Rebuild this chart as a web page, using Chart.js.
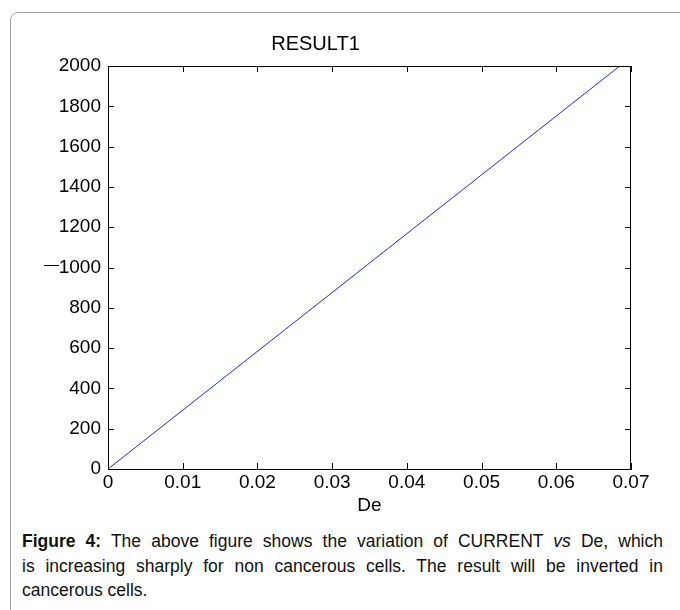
<!DOCTYPE html>
<html>
<head>
<meta charset="utf-8">
<script src="https://cdn.jsdelivr.net/npm/chart.js@4/dist/chart.umd.min.js"></script>
<style>
  html, body { margin: 0; padding: 0; background: #fff; width: 680px; height: 610px; overflow: hidden; }
  #card { position: absolute; left: 10px; top: 12px; width: 720px; height: 700px; border: 1px solid #a0a0a0; border-radius: 8px; box-sizing: border-box; }
  #wrap { position: absolute; left: 0; top: 0; width: 680px; height: 520px; }
  #caption { position: absolute; left: 22px; top: 529px; width: 641px; font-family: "Liberation Sans", Arial, sans-serif; font-size: 17.5px; line-height: 24.5px; color: #111; }
  #caption .j { text-align: justify; text-align-last: justify; white-space: nowrap; }
</style>
</head>
<body>
<div id="card"></div>
<div id="wrap"><canvas id="c" width="680" height="520"></canvas></div>
<div id="caption">
  <div class="j"><b>Figure 4:</b> The above figure shows the variation of CURRENT <i>vs</i> De, which</div>
  <div class="j">is increasing sharply for non cancerous cells. The result will be inverted in</div>
  <div>cancerous cells.</div>
</div>
<script>
// Data
const deValues = [0, 0.0685];
const resultValues = [0, 2000];
const xTickLabels = ["0", "0.01", "0.02", "0.03", "0.04", "0.05", "0.06", "0.07"];
const yTickLabels = ["0", "200", "400", "600", "800", "1000", "1200", "1400", "1600", "1800", "2000"];
const chartTitle = "RESULT1";
const xAxisTitle = "De";
const yAxisMark = "\u2014";

const FONT = "'Liberation Sans', Arial, sans-serif";

const frameTicks = {
  id: 'frameTicks',
  afterDraw(chart) {
    const {ctx, chartArea: a, scales: {x, y}} = chart;
    ctx.save();
    ctx.strokeStyle = '#000';
    ctx.lineWidth = 1;
    ctx.beginPath();
    ctx.moveTo(a.left, a.top + 0.5); ctx.lineTo(a.right, a.top + 0.5);
    ctx.moveTo(a.right - 0.5, a.top); ctx.lineTo(a.right - 0.5, a.bottom);
    const L = 6;
    x.ticks.forEach(t => {
      const px = Math.round(x.getPixelForValue(t.value)) + 0.5;
      ctx.moveTo(px, a.bottom); ctx.lineTo(px, a.bottom - L);
      ctx.moveTo(px, a.top); ctx.lineTo(px, a.top + L);
    });
    y.ticks.forEach(t => {
      const py = Math.round(y.getPixelForValue(t.value)) + 0.5;
      ctx.moveTo(a.left, py); ctx.lineTo(a.left + L, py);
      ctx.moveTo(a.right, py); ctx.lineTo(a.right - L, py);
    });
    ctx.stroke();
    // y-axis label (rendered as a short dash beside the middle tick)
    ctx.fillStyle = '#000';
    ctx.font = '15px ' + FONT;
    ctx.textAlign = 'right';
    ctx.textBaseline = 'middle';
    ctx.fillText(yAxisMark, 59, y.getPixelForValue(1000) - 3);
    ctx.restore();
  }
};

new Chart(document.getElementById('c'), {
  type: 'line',
  data: {
    datasets: [{
      data: deValues.map((v, i) => ({x: v, y: resultValues[i]})),
      borderColor: 'rgb(40,40,220)',
      borderWidth: 1,
      pointRadius: 0,
      fill: false,
      tension: 0
    }]
  },
  options: {
    responsive: false,
    animation: false,
    devicePixelRatio: 1,
    layout: { padding: { left: 0, right: 49, top: 0, bottom: 0 } },
    plugins: {
      legend: { display: false },
      tooltip: { enabled: false },
      title: {
        display: true,
        text: chartTitle,
        color: '#000',
        font: { family: FONT, size: 20, weight: 'normal', lineHeight: 1.2 },
        padding: { top: 32, bottom: 10 }
      }
    },
    scales: {
      x: {
        type: 'linear',
        min: 0, max: 0.07,
        afterFit(s) { s.height = 51; },
        afterBuildTicks(s) { s.ticks = xTickLabels.map(l => ({value: parseFloat(l)})); },
        ticks: {
          color: '#000',
          font: { family: FONT, size: 19, lineHeight: 1.2 },
          padding: 2,
          maxRotation: 0,
          autoSkip: false,
          callback: (v, i) => xTickLabels[i]
        },
        grid: { display: true, drawOnChartArea: false, drawTicks: false },
        border: { display: true, color: '#000', width: 1 },
        title: {
          display: true,
          text: xAxisTitle,
          color: '#000',
          font: { family: FONT, size: 19, lineHeight: 1.2 },
          padding: { top: 0, bottom: 3 }
        }
      },
      y: {
        type: 'linear',
        min: 0, max: 2000,
        afterFit(s) { s.width = 108; },
        afterBuildTicks(s) { s.ticks = yTickLabels.map(l => ({value: parseFloat(l)})); },
        ticks: {
          color: '#000',
          font: { family: FONT, size: 19, lineHeight: 1.2 },
          padding: 7,
          autoSkip: false,
          callback: (v, i) => yTickLabels[i]
        },
        grid: { display: true, drawOnChartArea: false, drawTicks: false },
        border: { display: true, color: '#000', width: 1 }
      }
    }
  },
  plugins: [frameTicks]
});
</script>
</body>
</html>
